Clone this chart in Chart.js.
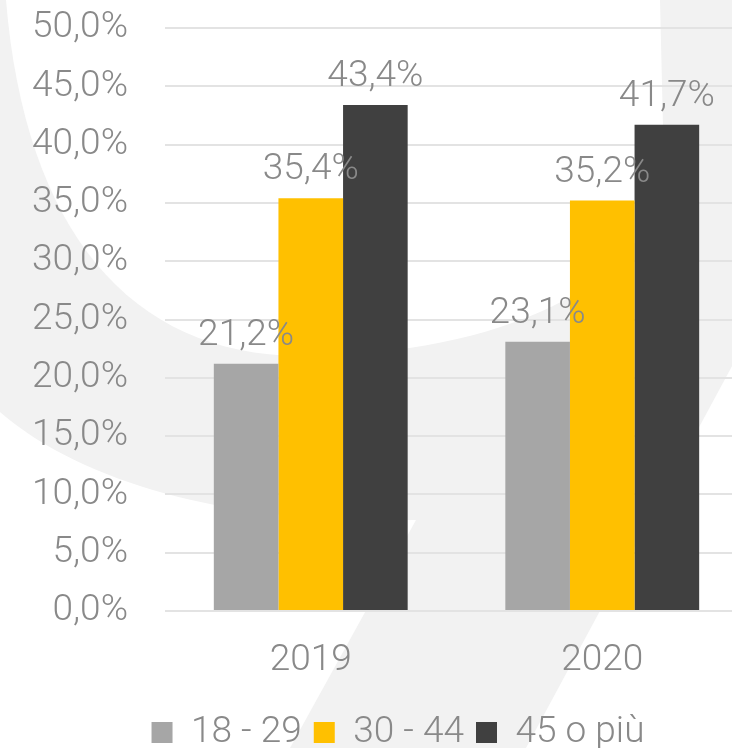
<!DOCTYPE html>
<html lang="it">
<head>
<meta charset="utf-8">
<title>Fasce di età 2019-2020</title>
<script src="https://cdn.jsdelivr.net/npm/chart.js@4.4.1/dist/chart.umd.min.js"></script>
<style>
  html, body { margin: 0; padding: 0; background: #fff; overflow: hidden; }
  #wrap { position: relative; width: 796px; height: 748px; }
</style>
</head>
<body>
<div id="wrap"><canvas id="ageChart"></canvas></div>
<script>
// ==============================
// DATA
// ==============================
const years = ['2019', '2020'];
const seriesNames = ['18 - 29', '30 - 44', '45 o più'];
const age18to29 = [21.2, 23.1];
const age30to44 = [35.4, 35.2];
const age45plus = [43.4, 41.7];
const seriesColors = ['#a6a6a6', '#ffc000', '#404040'];

const textGrey = '#898989';
const pct = v => Number(v).toFixed(1).replace('.', ',') + '%';

// ==============================
// BACKGROUND WATERMARK
// ==============================
const watermark = {
  id: 'watermark',
  beforeDraw(chart) {
    const { ctx, width, height } = chart;
    ctx.save();
    ctx.fillStyle = '#f2f2f2';
    ctx.fillRect(0, 0, width, height);
    ctx.fillStyle = '#ffffff';

    // big round hole
    ctx.beginPath();
    ctx.moveTo(6, 0);
    ctx.bezierCurveTo(25, 230, 130, 355, 300, 356);
    ctx.bezierCurveTo(470, 356, 650, 300, 664, 170);
    ctx.lineTo(660, 0);
    ctx.closePath();
    ctx.fill();

    // lower left
    ctx.beginPath();
    ctx.moveTo(0, 412);
    ctx.bezierCurveTo(90, 490, 250, 525, 416, 520);
    ctx.lineTo(290, 748);
    ctx.lineTo(0, 748);
    ctx.closePath();
    ctx.fill();

    // lower right
    ctx.beginPath();
    ctx.moveTo(738, 355);
    ctx.lineTo(526, 748);
    ctx.lineTo(width, 748);
    ctx.lineTo(width, 355);
    ctx.closePath();
    ctx.fill();
    ctx.restore();
  }
};

// ==============================
// VALUE LABELS
// ==============================
const valueLabels = {
  id: 'valueLabels',
  afterDatasetsDraw(chart) {
    const { ctx } = chart;
    ctx.save();
    ctx.font = '300 37px Roboto';
    ctx.fillStyle = textGrey;
    ctx.textAlign = 'center';
    ctx.textBaseline = 'alphabetic';
    chart.data.datasets.forEach((ds, i) => {
      chart.getDatasetMeta(i).data.forEach((bar, j) => {
        ctx.fillText(pct(ds.data[j]), bar.x, bar.y - 19);
      });
    });
    ctx.restore();
  }
};

// nudge the centred legend a little to the right
const legendShift = {
  id: 'legendShift',
  afterLayout(chart) {
    if (chart.legend) chart.legend.left += 20;
  }
};

// ==============================
// CHART
// ==============================
Chart.defaults.font.family = 'Roboto';
Chart.defaults.font.size = 37;
Chart.defaults.font.weight = '300';
Chart.defaults.color = textGrey;

new Chart(document.getElementById('ageChart'), {
  type: 'bar',
  data: {
    labels: years,
    datasets: [
      { label: seriesNames[0], data: age18to29, backgroundColor: seriesColors[0] },
      { label: seriesNames[1], data: age30to44, backgroundColor: seriesColors[1] },
      { label: seriesNames[2], data: age45plus, backgroundColor: seriesColors[2] }
    ]
  },
  options: {
    responsive: true,
    maintainAspectRatio: false,
    animation: false,
    categoryPercentage: 0.665,
    barPercentage: 1,
    layout: { padding: { left: 28, right: 48, top: 28, bottom: -13 } },
    plugins: {
      tooltip: { enabled: false },
      legend: {
        position: 'bottom',
        labels: {
          boxWidth: 21,
          boxHeight: 21,
          padding: 12,
          color: textGrey,
          font: { size: 37, lineHeight: 1 }
        }
      }
    },
    scales: {
      x: {
        grid: { display: false },
        border: { display: false },
        ticks: { color: textGrey, padding: 23, font: { lineHeight: 1 } }
      },
      y: {
        min: 0,
        max: 50,
        afterFit: s => {
          s.width = 137;
          s.paddingTop = 0;
          s.paddingBottom = 0;
        },
        grid: { color: '#e3e3e3', lineWidth: 2, drawTicks: false },
        border: { display: false },
        ticks: { stepSize: 5, padding: 37, color: textGrey, callback: v => pct(v) }
      }
    }
  },
  plugins: [watermark, valueLabels, legendShift]
});
</script>
</body>
</html>
